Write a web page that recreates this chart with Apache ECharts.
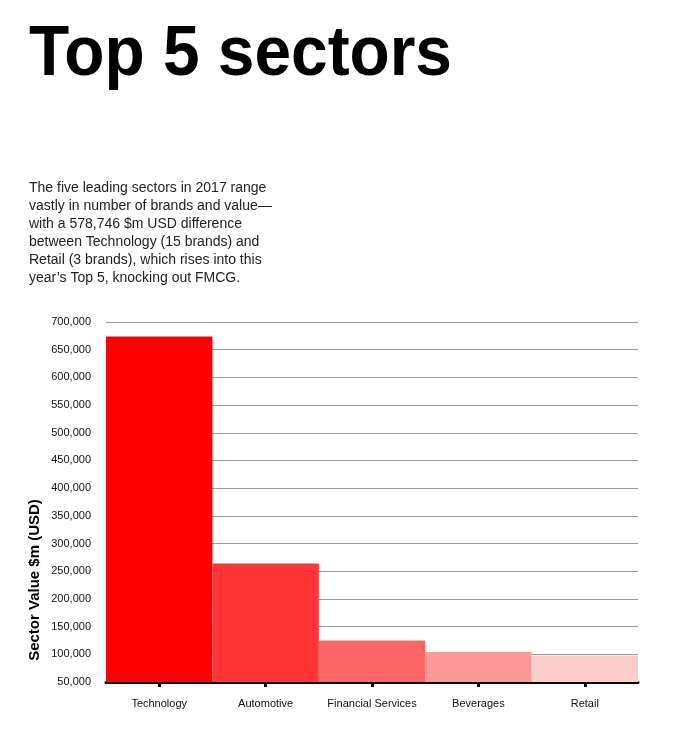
<!DOCTYPE html>
<html>
<head>
<meta charset="utf-8">
<script src="https://cdn.jsdelivr.net/npm/echarts@6/dist/echarts.min.js"></script>
<style>
  html, body { margin: 0; padding: 0; background: #ffffff; }
  #chart { width: 688px; height: 730px; }
</style>
</head>
<body>
<div id="chart"></div>
<script>
const categories = ['Technology', 'Automotive', 'Financial Services', 'Beverages', 'Retail'];
const values = [674000, 264000, 125000, 104000, 98000];
const barColors = ['#ff0000', '#ff3535', '#ff6666', '#ff9999', '#ffcccc'];
const yMin = 50000;
const yMax = 700000;
const yStep = 50000;
const titleText = 'Top 5 sectors';
const introLines = [
  'The five leading sectors in 2017 range',
  'vastly in number of brands and value\u2014',
  'with a 578,746 $m USD difference',
  'between Technology (15 brands) and',
  'Retail (3 brands), which rises into this',
  'year\u2019s Top 5, knocking out FMCG.'
];
const yAxisTitle = 'Sector Value $m (USD)';

const FONT = '"Liberation Sans", Arial, Helvetica, sans-serif';
const chart = echarts.init(document.getElementById('chart'), null, { renderer: 'canvas' });

function fmt(v) {
  return String(v).replace(/\B(?=(\d{3})+(?!\d))/g, ',');
}

chart.setOption({
  animation: false,
  backgroundColor: '#ffffff',
  grid: { left: 106, right: 50, top: 322, bottom: 48, containLabel: false },
  xAxis: {
    type: 'category',
    data: categories,
    boundaryGap: true,
    axisLine: { show: true, lineStyle: { color: '#000000', width: 3 } },
    axisTick: { show: true, alignWithLabel: true, interval: 0, length: 5, lineStyle: { color: '#000000', width: 3 } },
    axisLabel: { interval: 0, color: '#111111', fontSize: 11, fontFamily: FONT, margin: 16 },
    splitLine: { show: false }
  },
  yAxis: {
    type: 'value',
    min: yMin,
    max: yMax,
    interval: yStep,
    axisLine: { show: false },
    axisTick: { show: false },
    axisLabel: { color: '#111111', fontSize: 11, fontFamily: FONT, margin: 15, formatter: fmt },
    splitLine: { show: true, lineStyle: { color: '#999999', width: 1 } }
  },
  series: [{
    type: 'bar',
    data: values.map((v, i) => ({ value: v, itemStyle: { color: barColors[i] } })),
    barCategoryGap: '0%',
    barGap: '0%',
    z: 3
  }],
  graphic: [
    {
      type: 'text',
      x: 29, y: 56,
      scaleX: 0.94,
      style: {
        x: 0, y: 0,
        text: titleText,
        fill: '#000000',
        font: 'bold 70px ' + FONT,
        textAlign: 'left',
        textVerticalAlign: 'middle'
      }
    },
    {
      type: 'text',
      x: 29, y: 179,
      style: {
        x: 0, y: 0,
        text: introLines.join('\n'),
        fill: '#222222',
        font: '14px ' + FONT,
        lineHeight: 18,
        textAlign: 'left',
        textVerticalAlign: 'top'
      }
    },
    {
      type: 'text',
      x: 35, y: 580,
      rotation: Math.PI / 2,
      style: {
        x: 0, y: 0,
        text: yAxisTitle,
        fill: '#000000',
        font: 'bold 15px ' + FONT,
        textAlign: 'center',
        textVerticalAlign: 'middle'
      }
    }
  ]
});
</script>
</body>
</html>
